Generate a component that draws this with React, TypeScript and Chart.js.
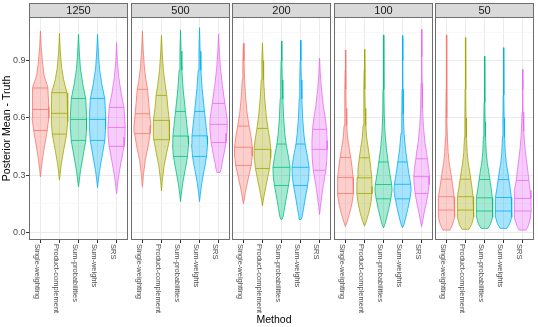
import React, { useEffect, useRef } from 'react';
import { Chart, registerables } from 'chart.js';

Chart.register(...registerables);

// ---------------- data ----------------
const facets = ['1250', '500', '200', '100', '50'];
const methods = ['Single-weighting', 'Product-complement', 'Sum-probabilities', 'Sum-weights', 'SRS'];
const yMajorTicks = [0, 0.3, 0.6, 0.9];
const yMinorTicks = [0.15, 0.45, 0.75, 1.05];
const xTitle = 'Method';
const yTitle = 'Posterior Mean - Truth';

// quartiles [q25, median, q75] per method
const quartiles1250 = [[0.534, 0.644, 0.757], [0.515, 0.624, 0.732], [0.482, 0.592, 0.702], [0.482, 0.592, 0.702], [0.451, 0.55, 0.655]];
const quartiles500 = [[0.518, 0.622, 0.75], [0.486, 0.587, 0.718], [0.398, 0.505, 0.634], [0.398, 0.506, 0.634], [0.471, 0.566, 0.676]];
const quartiles200 = [[0.351, 0.446, 0.557], [0.335, 0.435, 0.545], [0.246, 0.341, 0.463], [0.246, 0.341, 0.463], [0.325, 0.435, 0.54]];
const quartiles100 = [[0.204, 0.288, 0.393], [0.204, 0.286, 0.391], [0.176, 0.251, 0.369], [0.176, 0.252, 0.369], [0.204, 0.292, 0.386]];
const quartiles50 = [[0.117, 0.187, 0.279], [0.117, 0.187, 0.279], [0.112, 0.181, 0.277], [0.112, 0.183, 0.277], [0.112, 0.178, 0.272]];

// violin outlines: [value, half-width (category units)] from top to bottom
const violins1250 = [
  [[1.056, 0], [0.97, 0.04], [0.88, 0.12], [0.82, 0.2], [0.76, 0.39], [0.66, 0.44], [0.6, 0.44], [0.53, 0.35], [0.45, 0.21], [0.38, 0.1], [0.33, 0.04], [0.291, 0]],
  [[1.043, 0], [0.95, 0.04], [0.86, 0.12], [0.8, 0.22], [0.73, 0.4], [0.64, 0.44], [0.58, 0.43], [0.51, 0.37], [0.43, 0.22], [0.36, 0.1], [0.31, 0.04], [0.274, 0]],
  [[1.038, 0], [0.95, 0.04], [0.86, 0.1], [0.78, 0.22], [0.7, 0.38], [0.6, 0.43], [0.54, 0.42], [0.48, 0.38], [0.4, 0.24], [0.32, 0.1], [0.27, 0.04], [0.239, 0]],
  [[1.038, 0], [0.95, 0.04], [0.86, 0.1], [0.78, 0.22], [0.7, 0.38], [0.6, 0.43], [0.54, 0.42], [0.48, 0.38], [0.4, 0.24], [0.32, 0.1], [0.27, 0.04], [0.235, 0]],
  [[0.994, 0], [0.9, 0.04], [0.81, 0.12], [0.73, 0.24], [0.655, 0.39], [0.56, 0.45], [0.5, 0.44], [0.45, 0.39], [0.37, 0.24], [0.29, 0.1], [0.24, 0.04], [0.202, 0]],
];
const violins500 = [
  [[1.055, 0], [0.96, 0.04], [0.87, 0.1], [0.8, 0.18], [0.75, 0.27], [0.68, 0.33], [0.62, 0.38], [0.56, 0.44], [0.52, 0.41], [0.45, 0.3], [0.38, 0.15], [0.3, 0.05], [0.237, 0]],
  [[1.031, 0], [0.94, 0.04], [0.85, 0.1], [0.77, 0.2], [0.718, 0.28], [0.65, 0.34], [0.587, 0.41], [0.54, 0.44], [0.486, 0.4], [0.42, 0.28], [0.35, 0.14], [0.27, 0.04], [0.218, 0]],
  [[1.061, 0], [0.95, 0.03], [0.85, 0.07], [0.75, 0.14], [0.634, 0.26], [0.56, 0.34], [0.505, 0.4], [0.46, 0.42], [0.398, 0.37], [0.33, 0.25], [0.26, 0.12], [0.2, 0.04], [0.161, 0]],
  [[1.073, 0], [0.95, 0.03], [0.85, 0.07], [0.75, 0.14], [0.634, 0.26], [0.56, 0.34], [0.505, 0.4], [0.46, 0.42], [0.398, 0.37], [0.33, 0.25], [0.26, 0.12], [0.2, 0.04], [0.161, 0]],
  [[1.04, 0], [0.95, 0.04], [0.86, 0.1], [0.77, 0.2], [0.676, 0.33], [0.6, 0.44], [0.566, 0.46], [0.52, 0.44], [0.471, 0.39], [0.41, 0.28], [0.36, 0.18], [0.33, 0.13], [0.314, 0.08]],
];
const violins200 = [
  [[0.991, 0], [0.9, 0.03], [0.8, 0.06], [0.7, 0.12], [0.62, 0.2], [0.557, 0.3], [0.5, 0.4], [0.446, 0.47], [0.4, 0.46], [0.351, 0.41], [0.28, 0.25], [0.21, 0.1], [0.17, 0.04], [0.15, 0]],
  [[0.991, 0], [0.9, 0.03], [0.8, 0.06], [0.7, 0.12], [0.61, 0.2], [0.545, 0.29], [0.49, 0.38], [0.435, 0.44], [0.39, 0.43], [0.335, 0.37], [0.27, 0.24], [0.2, 0.1], [0.16, 0.03], [0.138, 0]],
  [[1.003, 0], [0.9, 0.02], [0.8, 0.04], [0.7, 0.07], [0.6, 0.11], [0.52, 0.17], [0.463, 0.24], [0.4, 0.36], [0.341, 0.45], [0.29, 0.43], [0.246, 0.37], [0.18, 0.25], [0.12, 0.15], [0.08, 0.08], [0.068, 0.03]],
  [[1.008, 0], [0.9, 0.02], [0.8, 0.04], [0.7, 0.07], [0.6, 0.11], [0.52, 0.17], [0.463, 0.24], [0.4, 0.36], [0.341, 0.45], [0.29, 0.43], [0.246, 0.37], [0.18, 0.25], [0.12, 0.15], [0.08, 0.08], [0.068, 0.03]],
  [[0.914, 0], [0.83, 0.04], [0.75, 0.1], [0.66, 0.2], [0.6, 0.3], [0.54, 0.37], [0.48, 0.4], [0.435, 0.4], [0.38, 0.38], [0.325, 0.33], [0.25, 0.2], [0.18, 0.1], [0.13, 0.04], [0.094, 0]],
];
const violins100 = [
  [[0.956, 0], [0.85, 0.015], [0.75, 0.025], [0.65, 0.04], [0.56, 0.07], [0.5, 0.11], [0.44, 0.2], [0.393, 0.28], [0.33, 0.36], [0.288, 0.4], [0.24, 0.42], [0.204, 0.42], [0.15, 0.34], [0.1, 0.22], [0.06, 0.1], [0.03, 0]],
  [[0.959, 0], [0.85, 0.015], [0.75, 0.025], [0.65, 0.04], [0.56, 0.07], [0.5, 0.11], [0.44, 0.2], [0.391, 0.27], [0.33, 0.34], [0.286, 0.385], [0.24, 0.4], [0.204, 0.4], [0.15, 0.33], [0.1, 0.22], [0.06, 0.1], [0.033, 0]],
  [[1.035, 0], [0.9, 0.015], [0.75, 0.025], [0.62, 0.04], [0.52, 0.08], [0.44, 0.15], [0.369, 0.245], [0.31, 0.33], [0.251, 0.43], [0.22, 0.45], [0.176, 0.385], [0.12, 0.27], [0.07, 0.15], [0.04, 0.07], [0.024, 0]],
  [[1.031, 0], [0.9, 0.015], [0.75, 0.025], [0.62, 0.04], [0.52, 0.08], [0.44, 0.15], [0.369, 0.245], [0.31, 0.33], [0.252, 0.43], [0.22, 0.45], [0.176, 0.385], [0.12, 0.27], [0.07, 0.15], [0.04, 0.07], [0.024, 0]],
  [[1.064, 0], [0.92, 0.015], [0.78, 0.03], [0.65, 0.05], [0.55, 0.1], [0.47, 0.18], [0.42, 0.26], [0.386, 0.3], [0.33, 0.38], [0.292, 0.41], [0.25, 0.39], [0.204, 0.34], [0.15, 0.24], [0.1, 0.13], [0.06, 0.06], [0.03, 0]],
];
const violins50 = [
  [[1.035, 0], [0.9, 0.01], [0.75, 0.018], [0.6, 0.03], [0.5, 0.05], [0.42, 0.09], [0.36, 0.15], [0.32, 0.22], [0.279, 0.28], [0.23, 0.35], [0.187, 0.4], [0.14, 0.43], [0.117, 0.44], [0.08, 0.42], [0.04, 0.32], [0.012, 0.18]],
  [[1.021, 0], [0.9, 0.01], [0.75, 0.018], [0.6, 0.03], [0.5, 0.05], [0.42, 0.09], [0.36, 0.15], [0.32, 0.22], [0.279, 0.28], [0.23, 0.35], [0.187, 0.4], [0.14, 0.43], [0.117, 0.44], [0.08, 0.42], [0.04, 0.32], [0.016, 0.18]],
  [[0.924, 0], [0.8, 0.012], [0.68, 0.022], [0.58, 0.035], [0.5, 0.055], [0.42, 0.09], [0.36, 0.15], [0.32, 0.22], [0.277, 0.28], [0.23, 0.35], [0.181, 0.41], [0.14, 0.43], [0.112, 0.44], [0.08, 0.42], [0.045, 0.32], [0.021, 0.18]],
  [[0.968, 0], [0.85, 0.012], [0.72, 0.02], [0.6, 0.032], [0.5, 0.055], [0.42, 0.09], [0.36, 0.15], [0.32, 0.22], [0.277, 0.28], [0.23, 0.35], [0.183, 0.41], [0.14, 0.43], [0.112, 0.44], [0.08, 0.42], [0.045, 0.32], [0.021, 0.18]],
  [[0.854, 0], [0.75, 0.015], [0.63, 0.03], [0.53, 0.06], [0.45, 0.12], [0.38, 0.2], [0.32, 0.28], [0.272, 0.33], [0.22, 0.4], [0.178, 0.44], [0.112, 0.45], [0.07, 0.4], [0.035, 0.3], [0.012, 0.18]],
];

const quartilesByFacet = [quartiles1250, quartiles500, quartiles200, quartiles100, quartiles50];
const violinsByFacet = [violins1250, violins500, violins200, violins100, violins50];

// ---------------- style / layout ----------------
const colors = ['#F8766D', '#A3A500', '#00BF7D', '#00B0F6', '#E76BF3'];
const FILL_ALPHA = 0.35;
const FONT = "'Liberation Sans', Arial, sans-serif";
const PANEL_LEFT = [29, 131, 232, 334, 435];
const PANEL_W = 99;
const Y_AXIS_W = 29;
const TOP = 17;
const STRIP_TOP = 3;
const H = 327;
const PLOT_BOTTOM = 240;
const BORDER = '#6e6e6e';

function hexToRgba(hex: string, a: number) {
  const n = parseInt(hex.slice(1), 16);
  return `rgba(${(n >> 16) & 255},${(n >> 8) & 255},${n & 255},${a})`;
}

function halfWidthAt(prof: number[][], v: number) {
  for (let i = 0; i < prof.length - 1; i++) {
    const [v0, w0] = prof[i];
    const [v1, w1] = prof[i + 1];
    if (v <= v0 && v >= v1) {
      const t = v0 === v1 ? 0 : (v0 - v) / (v0 - v1);
      return w0 + (w1 - w0) * t;
    }
  }
  return 0;
}

function buildDatasets(facet: number) {
  const profiles = violinsByFacet[facet];
  const quarts = quartilesByFacet[facet];
  const ds: any[] = [];
  profiles.forEach((prof, k) => {
    const c = k + 1;
    const right = prof.map(([v, w]) => ({ x: c + w, y: v }));
    const left = prof.slice().reverse().map(([v, w]) => ({ x: c - w, y: v }));
    const pts = [...right, ...left, right[0]];
    ds.push({
      label: methods[k],
      data: pts,
      borderColor: colors[k],
      backgroundColor: hexToRgba(colors[k], FILL_ALPHA),
      borderWidth: 0.8,
      fill: 'shape',
      pointRadius: 0,
      tension: 0,
    });
    quarts[k].forEach((q) => {
      const w = halfWidthAt(prof, q);
      ds.push({
        label: methods[k] + ' q',
        data: [{ x: c - w, y: q }, { x: c + w, y: q }],
        borderColor: colors[k],
        borderWidth: 0.8,
        fill: false,
        pointRadius: 0,
      });
    });
  });
  return ds;
}

function Panel({ index }: { index: number }) {
  const ref = useRef<HTMLCanvasElement>(null);
  const first = index === 0;
  const left = first ? 0 : PANEL_LEFT[index] - 1;
  const width = first ? Y_AXIS_W + PANEL_W + 1 : PANEL_W + 2;

  useEffect(() => {
    const allY = [...yMajorTicks, ...yMinorTicks].sort((a, b) => a - b);
    const isMajor = (v: number) => yMajorTicks.some((m) => Math.abs(m - v) < 1e-9);
    const deco = {
      id: 'facetDeco',
      afterDraw(chart: any) {
        const { ctx, chartArea: a, scales } = chart;
        const w = a.right - a.left;
        ctx.save();
        // panel border
        ctx.strokeStyle = BORDER;
        ctx.lineWidth = 1;
        ctx.strokeRect(a.left + 0.5, a.top + 0.5, w - 1, a.bottom - a.top - 1);
        // strip
        ctx.fillStyle = '#d9d9d9';
        ctx.fillRect(a.left, STRIP_TOP, w, TOP - STRIP_TOP + 1);
        ctx.strokeRect(a.left + 0.5, STRIP_TOP + 0.5, w - 1, TOP - STRIP_TOP);
        ctx.fillStyle = '#1a1a1a';
        ctx.font = `11px ${FONT}`;
        ctx.textAlign = 'center';
        ctx.textBaseline = 'middle';
        ctx.fillText(facets[index], a.left + w / 2, (STRIP_TOP + TOP) / 2 + 0.8);
        // x tick labels (rotated, reading downwards)
        ctx.fillStyle = '#4d4d4d';
        ctx.font = `7.5px ${FONT}`;
        ctx.textAlign = 'left';
        ctx.textBaseline = 'top';
        methods.forEach((m, k) => {
          const x = scales.x.getPixelForValue(k + 1);
          ctx.save();
          ctx.translate(x + 0.5, a.bottom + 4);
          ctx.rotate(Math.PI / 2);
          ctx.fillText(m, 0, 0);
          ctx.restore();
        });
        ctx.restore();
      },
    };

    const chart = new Chart(ref.current as HTMLCanvasElement, {
      type: 'line',
      data: { datasets: buildDatasets(index) },
      options: {
        responsive: false,
        animation: false,
        events: [],
        layout: { padding: { left: first ? 0 : 1, right: 1, top: TOP, bottom: 0 } },
        plugins: { legend: { display: false }, tooltip: { enabled: false }, title: { display: false } },
        scales: {
          x: {
            type: 'linear',
            min: 0.4,
            max: 5.6,
            afterBuildTicks: (s: any) => {
              s.ticks = [1, 2, 3, 4, 5].map((v) => ({ value: v }));
            },
            afterFit: (s: any) => {
              s.height = H - PLOT_BOTTOM;
            },
            ticks: { display: false },
            border: { display: false },
            grid: { color: '#ebebeb', lineWidth: 1, drawTicks: true, tickLength: 3, tickColor: '#333333', tickWidth: 1 },
          },
          y: {
            type: 'linear',
            min: -0.04,
            max: 1.129,
            afterBuildTicks: (s: any) => {
              s.ticks = allY.map((v) => ({ value: v }));
            },
            afterFit: (s: any) => {
              s.width = first ? Y_AXIS_W : 0;
            },
            border: { display: false },
            grid: {
              color: (c: any) => (c.tick && isMajor(c.tick.value) ? '#ebebeb' : '#f3f3f3'),
              lineWidth: (c: any) => (c.tick && isMajor(c.tick.value) ? 1 : 0.6),
              drawTicks: first,
              tickLength: 3,
              tickWidth: 1,
              tickColor: (c: any) => (c.tick && isMajor(c.tick.value) ? '#333333' : 'rgba(0,0,0,0)'),
            },
            ticks: {
              display: first,
              padding: 0.5,
              color: '#4d4d4d',
              font: { family: FONT, size: 9 },
              callback: (v: any) => (isMajor(Number(v)) ? Number(v).toFixed(1) : ''),
            },
            title: {
              display: first,
              text: yTitle,
              color: '#000000',
              font: { family: FONT, size: 10.6 },
              padding: { top: 0.5, bottom: 0 },
            },
          },
        },
      } as any,
      plugins: [deco],
    });
    return () => chart.destroy();
  }, []);

  return (
    <canvas
      ref={ref}
      width={width}
      height={H}
      style={{ position: 'absolute', left, top: 0, width, height: H }}
    />
  );
}

export default function App() {
  return (
    <div style={{ position: 'absolute', left: 0, top: 0, width: 538, height: 327, background: '#ffffff', overflow: 'hidden' }}>
      {facets.map((f, i) => (
        <Panel key={f} index={i} />
      ))}
      <div
        style={{
          position: 'absolute',
          left: 0,
          width: 548,
          top: 312,
          textAlign: 'center',
          fontFamily: FONT,
          fontSize: 10.5,
          lineHeight: '14px',
          color: '#000',
        }}
      >
        {xTitle}
      </div>
    </div>
  );
}
